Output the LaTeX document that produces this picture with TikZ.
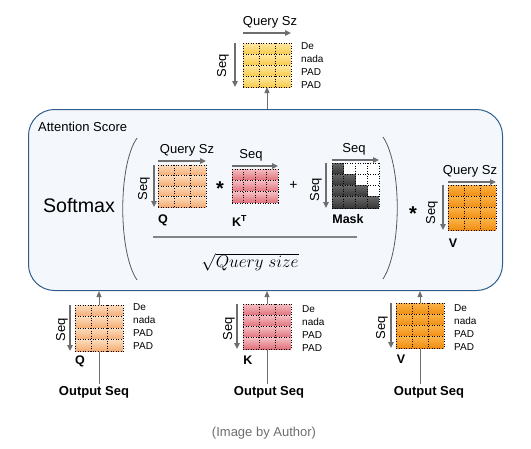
\documentclass[tikz,border=0pt]{standalone}
\usepackage{fontspec}
\setmainfont{Liberation Sans}
\usetikzlibrary{arrows.meta,backgrounds}

\definecolor{boxfill}{HTML}{F4F8FC}
\definecolor{boxline}{HTML}{2F5E8C}
\definecolor{arrowgray}{HTML}{6E6E6E}
\definecolor{yeltop}{HTML}{FFE9A4}
\definecolor{yelbot}{HTML}{F7CB4C}
\definecolor{peachtop}{HTML}{FCDDBD}
\definecolor{peachbot}{HTML}{F4AC74}
\definecolor{pinktop}{HTML}{F5BFC3}
\definecolor{pinkbot}{HTML}{E0707A}
\definecolor{orgtop}{HTML}{FBB347}
\definecolor{orgbot}{HTML}{F08D12}
\definecolor{masktop}{HTML}{666666}
\definecolor{maskbot}{HTML}{363636}
\definecolor{captiongray}{HTML}{6E6E6E}

\tikzset{
  matbox/.style={anchor=north west, inner sep=0pt, outer sep=0pt},
  griddot/.style={black, dotted, line width=0.55pt},
  attbox/.style={draw=boxline, fill=boxfill, line width=1pt, rounded corners=26pt,
    anchor=north west, inner sep=0pt},
  dimarrow/.style={arrowgray, line width=1.5pt, -{Triangle[length=6pt,width=5.5pt]}},
  feed/.style={arrowgray, line width=1pt, -{Triangle[length=6pt,width=5pt]}},
  paren/.style={draw=black!65, line width=0.8pt},
  lab/.style={font=\fontsize{13}{15}\selectfont, inner sep=0pt},
  seqlab/.style={lab, rotate=90},
  tok/.style={font=\fontsize{10}{13}\selectfont, align=left, anchor=north west, inner sep=0pt},
  matname/.style={font=\fontsize{12.5}{14}\selectfont\bfseries, inner sep=0pt},
  outlab/.style={font=\fontsize{13}{15}\selectfont\bfseries, inner sep=2pt},
  opsym/.style={font=\fontsize{20}{22}\selectfont\bfseries, inner sep=0pt},
}

% dotted cell grid: x, y, cols, rows, cell w, cell h
\newcommand{\dotgrid}[6]{%
  \foreach \col in {0,...,#3}
    {\draw[griddot] ({#1+\col*#5},#2) -- ++(0,{#4*#6});}
  \foreach \row in {0,...,#4}
    {\draw[griddot] (#1,{#2+\row*#6}) -- ++({#3*#5},0);}
}

% token matrix: name, x, y, cols, rows, cell w, cell h, top colour, bottom colour
\newcommand{\tokmat}[9]{%
  \node[matbox, minimum width={#4*#6pt}, minimum height={#5*#7pt}] (#1) at (#2,#3) {};
  \foreach \row in {1,...,#5}
    {\shade[top color=#8, bottom color=#9] (#2,{#3+(\row-1)*#7}) rectangle ++({#4*#6},#7);}
  \dotgrid{#2}{#3}{#4}{#5}{#6}{#7}
}

\begin{document}
\begin{tikzpicture}[x=1pt,y=-1pt]
\useasboundingbox (0,0) rectangle (531,448);

% attention block
\begin{scope}[on background layer]
  \node[attbox, minimum width=474pt, minimum height=181pt] (att) at (28,109) {};
\end{scope}
\node[lab, anchor=west] (atttitle) at (38,127) {Attention Score};
\node[font=\fontsize{19.6}{22}\selectfont, inner sep=0pt] (softmax) at (79,205) {Softmax};
\draw[paren] (137,138) .. controls (118,165) and (118,252) .. (137,280);
\draw[paren] (383,137) .. controls (402,165) and (402,250) .. (383,279);

% block output
\tokmat{yout}{243}{43}{3}{4}{16}{11}{yeltop}{yelbot}
\node[lab] (youtsz) at (270,22) {Query Sz};
\draw[dimarrow] ([yshift=10pt]yout.north west) -- ([yshift=10pt]yout.north east);
\draw[dimarrow] ([xshift=-8pt]yout.north west) -- ([xshift=-8pt]yout.south west);
\node[seqlab] (youtseq) at (223,66) {Seq};
\node[tok] (youttok) at (301,42.5) {De\\nada\\PAD\\PAD};

% Q
\tokmat{qin}{158}{165}{3}{4}{16}{10.5}{peachtop}{peachbot}
\node[lab] (qinsz) at (187,150) {Query Sz};
\draw[dimarrow] ([yshift=4pt]qin.north west) -- ([yshift=4pt]qin.north east);
\draw[dimarrow] ([xshift=-4pt]qin.north west) -- ([xshift=-4pt]qin.south west);
\node[seqlab] (qinseq) at (144,189) {Seq};
\node[matname] (qinname) at (163,220) {Q};
\node[opsym] (mulk) at (220,189) {*};

% K transposed
\tokmat{ktin}{232}{169}{4}{3}{11.5}{11.3}{pinktop}{pinkbot}
\node[lab] (ktinseq) at (251,155) {Seq};
\draw[dimarrow] ([yshift=3pt]ktin.north west) -- ([yshift=3pt]ktin.north east);
\node[matname, anchor=west] (ktname) at (232,221) {K\textsuperscript{T}};
\node[font=\fontsize{14}{16}\selectfont, inner sep=0pt] (plusmask) at (293.5,185) {+};

% mask
\node[matbox, minimum width=47pt, minimum height=45pt, fill=white] (mask) at (332,163) {};
\foreach \row in {1,...,4}
  \foreach \col in {1,...,\row}
    {\shade[top color=masktop, bottom color=maskbot]
      ({332+(\col-1)*11.75},{163+(\row-1)*11.25}) rectangle ++(11.75,11.25);}
\dotgrid{332}{163}{4}{4}{11.75}{11.25}
\node[lab] (maskseqtop) at (354,149) {Seq};
\draw[dimarrow] ([yshift=3pt]mask.north west) -- ([yshift=3pt]mask.north east);
\draw[dimarrow] ([xshift=-6pt]mask.north west) -- ([xshift=-6pt]mask.south west);
\node[seqlab] (maskseq) at (316,190) {Seq};
\node[matname] (maskname) at (348,219) {Mask};

% scaling
\draw[arrowgray!85, line width=1.5pt] (153,237) -- (357,237);
\node[font=\fontsize{17}{19}\selectfont, inner sep=0pt] (sqrtq) at (250,262) {$\sqrt{Query\ size}$};

% V
\node[opsym] (mulv) at (413,213.5) {*};
\tokmat{vin}{448}{185}{3}{4}{16}{11.25}{orgtop}{orgbot}
\node[lab] (vinsz) at (470,171) {Query Sz};
\draw[dimarrow] ([yshift=3pt]vin.north west) -- ([yshift=3pt]vin.north east);
\draw[dimarrow] ([xshift=-5pt]vin.north west) -- ([xshift=-5pt]vin.south west);
\node[seqlab] (vinseq) at (432,213) {Seq};
\node[matname] (vinname) at (453,243) {V};

% inputs
\tokmat{qbot}{75}{305}{3}{4}{16}{11.5}{peachtop}{peachbot}
\draw[dimarrow] ([xshift=-5pt]qbot.north west) -- ([xshift=-5pt]qbot.south west);
\node[seqlab] (qbotseq) at (62,330) {Seq};
\node[tok] (qbottok) at (133,303.5) {De\\nada\\PAD\\PAD};
\node[matname] (qbotname) at (80,361) {Q};
\node[outlab] (outq) at (94,392) {Output Seq};

\tokmat{kbot}{243}{304}{3}{4}{16}{11.25}{pinktop}{pinkbot}
\draw[dimarrow] ([xshift=-6pt]kbot.north west) -- ([xshift=-6pt]kbot.south west);
\node[seqlab] (kbotseq) at (229,329) {Seq};
\node[tok] (kbottok) at (302,305.5) {De\\nada\\PAD\\PAD};
\node[matname] (kbotname) at (248,360) {K};
\node[outlab] (outk) at (269,392) {Output Seq};

\tokmat{vbot}{396}{303}{3}{4}{16}{11.25}{orgtop}{orgbot}
\draw[dimarrow] ([xshift=-5pt]vbot.north west) -- ([xshift=-5pt]vbot.south west);
\node[seqlab] (vbotseq) at (382,328) {Seq};
\node[tok] (vbottok) at (454,304.5) {De\\nada\\PAD\\PAD};
\node[matname] (vbotname) at (401,359) {V};
\node[outlab] (outv) at (429,392) {Output Seq};

\begin{scope}[on background layer]
  \draw[feed] (att.north -| yout.south) -- (yout.south);
  \draw[feed] (outq.north -| qbot.center) -- (att.south -| qbot.center);
  \draw[feed] (outk.north -| kbot.center) -- (att.south -| kbot.center);
  \draw[feed] (outv.north -| vbot.center) -- (att.south -| vbot.center);
\end{scope}

\node[font=\fontsize{13}{15}\selectfont, text=captiongray, inner sep=0pt] (caption) at (264,433) {(Image by Author)};
\end{tikzpicture}
\end{document}
